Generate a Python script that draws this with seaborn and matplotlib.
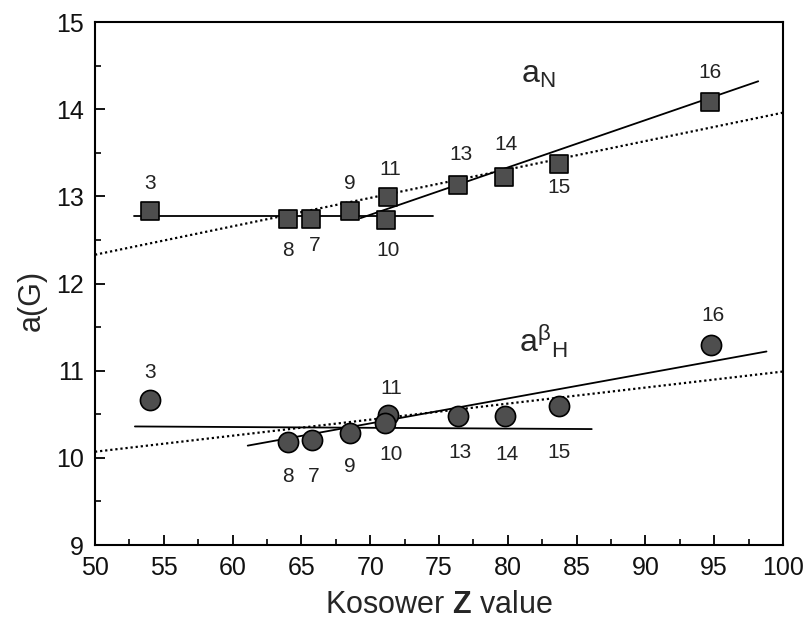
import numpy as np
import pandas as pd
import matplotlib
matplotlib.use("Agg")
import matplotlib.pyplot as plt
import seaborn as sns

# ---------------- data ----------------
solvent_ids = ["3", "8", "7", "9", "11", "10", "13", "14", "15", "16"]
z_value = [54.0, 64.05, 65.7, 68.5, 71.3, 71.15, 76.35, 79.75, 83.7, 94.7]
a_N = [12.83, 12.74, 12.74, 12.83, 12.99, 12.73, 13.13, 13.22, 13.37, 14.08]
z_value_H = [54.0, 64.05, 65.75, 68.5, 71.3, 71.1, 76.4, 79.8, 83.75, 94.75]
a_H = [10.66, 10.18, 10.20, 10.28, 10.49, 10.40, 10.48, 10.48, 10.59, 11.29]

# fitted lines: (x_start, x_end, y_start, y_end)
aN_flat_fit = [52.8, 74.6, 12.78, 12.78]
aN_steep_fit = [69.3, 98.2, 12.75, 14.32]
aN_all_fit = [50.0, 100.0, 12.33, 13.96]
aH_flat_fit = [52.9, 86.1, 10.36, 10.33]
aH_steep_fit = [61.1, 98.8, 10.14, 11.22]
aH_all_fit = [50.0, 100.0, 10.07, 10.99]

# label offsets (pixels) for point numbers
aN_label_off = [(0, 28), (0, -32), (4, -27), (0, 28), (2, 28), (2, -31), (3, 31), (2, 33), (0, -23), (0, 30)]
aH_label_off = [(0, 28), (0, -34), (2, -36), (0, -33), (3, 27), (6, -32), (2, -37), (2, -39), (0, -46), (2, 30)]

x_ticks = [50, 55, 60, 65, 70, 75, 80, 85, 90, 95, 100]
y_ticks = [9, 10, 11, 12, 13, 14, 15]

# ---------------- style ----------------
sns.set_theme(style="ticks")
plt.rcParams["font.family"] = ["Liberation Sans", "DejaVu Sans"]
plt.rcParams["mathtext.fontset"] = "custom"
plt.rcParams["mathtext.rm"] = "Liberation Sans"
plt.rcParams["mathtext.it"] = "Liberation Sans"
plt.rcParams["mathtext.bf"] = "Liberation Sans:bold"

fig = plt.figure(figsize=(8.06, 6.27), dpi=100)
ax = fig.add_axes([95 / 806, 1 - 545 / 627, (783 - 95) / 806, (545 - 22) / 627])

def fit_line(p, **kw):
    df = pd.DataFrame({"x": [p[0], p[1]], "y": [p[2], p[3]]})
    sns.lineplot(data=df, x="x", y="y", ax=ax, color="black", legend=False, **kw)

solid = dict(linewidth=1.3)
dotted = dict(linewidth=1.6, linestyle=(0, (1, 1.3)))

fit_line(aN_all_fit, **dotted)
fit_line(aH_all_fit, **dotted)
fit_line(aN_flat_fit, **solid)
fit_line(aN_steep_fit, **solid)
fit_line(aH_flat_fit, **solid)
fit_line(aH_steep_fit, **solid)

dfN = pd.DataFrame({"z": z_value, "a": a_N, "id": solvent_ids})
dfH = pd.DataFrame({"z": z_value_H, "a": a_H, "id": solvent_ids})
sns.scatterplot(data=dfN, x="z", y="a", ax=ax, marker="s", s=13 ** 2,
                color="#4e4e4e", edgecolor="black", linewidth=1.2, zorder=5)
sns.scatterplot(data=dfH, x="z", y="a", ax=ax, marker="o", s=14.5 ** 2,
                color="#4e4e4e", edgecolor="black", linewidth=1.2, zorder=5)

for df, offs in ((dfN, aN_label_off), (dfH, aH_label_off)):
    for (_, r), (dx, dy) in zip(df.iterrows(), offs):
        ax.annotate(r["id"], (r["z"], r["a"]), xytext=(dx, dy), textcoords="offset pixels",
                    ha="center", va="center", fontsize=15, color="#222222")

ax.text(82.2, 14.39, r"$\mathrm{a}_{\mathrm{N}}$", fontsize=23, ha="center", va="center")
ax.text(82.6, 11.33, r"$\mathrm{a}^{\beta}{}_{\mathrm{H}}$", fontsize=23, ha="center", va="center")

ax.set_xlim(50, 100)
ax.set_ylim(9, 15)
ax.set_xticks(x_ticks)
ax.set_yticks(y_ticks)
ax.set_xticks(np.arange(52.5, 100, 5), minor=True)
ax.set_yticks(np.arange(9.5, 15, 1), minor=True)
ax.tick_params(axis="both", which="major", direction="in", length=7, width=1.3,
               labelsize=18, pad=8, top=False, right=False, color="black", labelcolor="#111111")
ax.tick_params(axis="both", which="minor", direction="in", length=4.5, width=1.2,
               top=False, right=False, color="black")
for s in ax.spines.values():
    s.set_linewidth(1.5)
    s.set_color("black")

ax.set_xlabel(r"Kosower $\mathbf{Z}$ value", fontsize=22)
ax.set_ylabel("a(G)", fontsize=22)
ax.xaxis.set_label_coords(0.5, -0.115, transform=ax.transAxes)
ax.yaxis.set_label_coords(-0.092, 0.468, transform=ax.transAxes)
ax.xaxis.label.set_va("center")
ax.yaxis.label.set_va("center")

fig.savefig("out.png", dpi=100)
